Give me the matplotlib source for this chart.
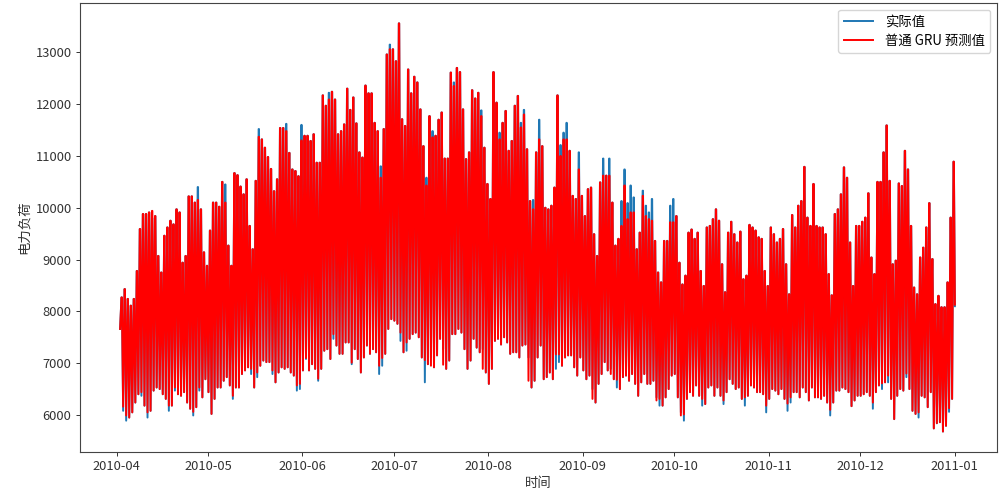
import numpy as np
import pandas as pd
import matplotlib
matplotlib.use("Agg")
import matplotlib.pyplot as plt
import matplotlib.dates as mdates

plt.rcParams['font.family'] = ['Noto Sans CJK SC', 'DejaVu Sans']
plt.rcParams['axes.unicode_minus'] = False

# one evening peak per day (starts 2010-04-02)
pred_peak = [
    8270,8430,8240,8110,8240,8780,9590,9880,9880,9910,9940,9840,9070,8750,9460,9620,9750,9680,9970,9910,
    8940,9070,10220,10220,10100,10150,9970,9140,8880,9560,10100,10100,10020,10500,10100,9270,8880,10670,10630,10410,
    10260,10550,9650,9200,10520,11370,11320,11160,10980,10750,10320,10550,11540,11540,11480,11060,10740,10710,10610,11300,
    11390,11390,11290,11420,10870,10870,12170,11970,12090,12240,12090,11420,11480,11610,12300,11890,12130,11630,11070,10970,
    12360,12210,12210,11640,11480,10580,11520,12960,
    13060,13060,12830,13560,11710,11580,12670,12210,12530,12420,11900,11190,10430,11770,11360,11390,11700,11840,10950,10950,
    12610,12350,12700,12620,11900,10940,11070,12270,12110,12220,11770,11160,10460,10170,12620,12030,11320,11640,11870,11100,
    11290,11970,12160,11550,11800,11130,10130,9970,11070,11320,11190,10000,9970,10040,10390,12170,11000,11320,11320,11100,
    10230,10170,10740,10230,9840,10360,10390,9490,9070,10490,10620,10620,10620,10100,9270,9400,9650,10430,9780,9910,
    9910,9200,9520,10230,9840,9780,9750,9360,8750,8560,9360,9360,9720,9720,9840,8940,8520,8690,9520,
    9580,9400,9520,8780,8490,9620,9650,9780,9970,9750,8910,8370,9520,9730,9490,9330,9540,8620,8690,9670,
    9620,9560,9430,9400,8780,8490,9620,9490,9330,9400,9590,8910,8330,9860,9620,10040,10130,10790,9810,9650,
    10460,9650,9620,9620,9490,8720,8310,9880,9970,10260,10780,10580,9330,8490,9650,9650,9730,9810,10280,9040,
    8720,10500,10500,11070,11590,10520,8910,8980,10470,10420,11100,10740,9650,8460,8330,9040,9230,9620,10090,9010,
    8140,8300,8080,8080,8560,9810,10890,
]

# one night trough per day, lower edge of the curves
actual_low = [
    7660,6080,5890,5950,6050,6240,6400,6370,6180,5950,6080,6470,6530,6500,6400,6310,6080,6180,6470,6400,
    6370,6440,6240,6120,5990,6150,6470,6340,6690,6440,6020,6310,6530,6530,6660,6730,6570,6310,6530,6530,
    6790,6860,6920,6790,6530,6730,6950,7050,7020,7020,6790,6630,6820,6920,6890,6920,6820,6760,6470,6500,
    6860,7080,6860,6980,6890,6660,6890,7240,7270,7080,7470,7340,7180,7180,7400,7400,6980,7270,7080,6820,
    7110,7340,7180,7270,7210,6790,6950,7180,7660,
    7850,7820,7760,7430,7210,7240,7470,7560,7590,7500,7110,6630,6980,7110,6920,7150,7470,7270,6890,7050,
    7560,7560,7660,7590,7270,6890,7050,7470,7300,7210,7270,6820,6600,6890,7430,7470,7360,7500,7400,7180,
    7210,7210,7110,7340,7360,7110,6530,6660,7110,7340,6690,6730,6820,6690,6890,7020,6950,7110,7150,7150,
    6920,6760,7110,6860,6690,6760,6500,6240,6600,6790,7020,6860,6890,6690,6530,6500,6730,6760,6660,6790,
    6600,6370,6630,6790,6600,6600,6660,6340,6180,6180,6340,6500,6760,6790,6340,6050,5890,6310,6440,
    6370,6570,6370,6180,6210,6530,6570,6370,6530,6370,6210,6440,6690,6600,6500,6530,6310,6180,6370,6570,
    6530,6440,6440,6400,6050,6310,6500,6470,6400,6500,6310,6080,6240,6440,6440,6340,6530,6440,6280,6530,
    6340,6340,6310,6370,6240,5990,6240,6470,6470,6530,6500,6440,6170,6280,6370,6370,6400,6440,6370,6120,
    6440,6570,6500,6630,6630,6310,5920,6370,6500,6470,6730,6500,6080,6020,5950,6370,6340,6150,6440,5740,
    5840,5860,5680,5790,6060,6310,
]
last_value = 8100

# days where the blue curve shows above the red one
blue_high_days = [10,25,34,45,54,59,68,85,88,100,102,109,118,124,131,132,135,137,144,145,146,150,158,160,164,165,166,167,168,171,172,173,174,180,181]
blue_high_vals = [9800,10400,10450,11520,11620,11600,12220,10800,13150,10580,11480,12420,11880,11450,11640,11890,10150,11700,11210,11450,11640,11070,10950,10950,10130,10740,10090,10430,10200,10330,10040,9910,10170,10040,10170]

# days where the blue curve shows below the red one, with the red low
blue_low_days = [1,2,7,9,16,18,24,26,37,43,45,50,58,59,61,65,70,76,85,86,92,94,100,102,106,119,134,143,144,155,161,163,176,177,184,185,191,198,205,212,219,220,233,247,250,252,258,262,272]
red_low_vals = [6160,5990,6440,6050,6180,6530,6060,6530,6370,6890,6820,6860,6570,6600,7100,6700,7560,7010,6950,7100,7590,7400,7060,6950,6970,6890,6660,7170,7170,6310,6790,6680,6280,6310,5990,6010,6310,6280,6340,6180,6220,6340,6100,6240,6610,6760,6800,6050,6130]

n = min(len(pred_peak), len(actual_low))
days = pd.date_range('2010-04-02', periods=n, freq='D')

actual_high = list(pred_peak[:n])
for d, v in zip(blue_high_days, blue_high_vals):
    actual_high[d] = v
pred_low = list(actual_low[:n])
for d, v in zip(blue_low_days, red_low_vals):
    pred_low[d] = v

# each day: night low, then a short stretch at the peak in the evening
times = []
actual = []
pred = []
for i in range(n):
    times += [days[i] + pd.Timedelta(hours=4), days[i] + pd.Timedelta(hours=15), days[i] + pd.Timedelta(hours=18)]
    actual += [actual_low[i], actual_high[i], actual_high[i]]
    pred += [pred_low[i], pred_peak[i], pred_peak[i]]
times.append(pd.Timestamp('2011-01-01 02:00'))
actual.append(last_value)
pred.append(last_value + 30)

fig = plt.figure(figsize=(10.07, 4.95), dpi=100)
ax = fig.add_axes([0.0794, 0.087, 0.9106, 0.907])
ax.plot(times, actual, color='#1f77b4', lw=1.4, label='实际值')
ax.plot(times, pred, color='red', lw=1.4, label='普通 GRU 预测值')
ax.set_xlim(pd.Timestamp('2010-03-20 00:00'), pd.Timestamp('2011-01-14 21:00'))
ax.xaxis.set_major_locator(mdates.MonthLocator())
ax.xaxis.set_major_formatter(mdates.DateFormatter('%Y-%m'))
ax.tick_params(labelsize=9.3, length=3, width=0.7, colors='#333333', pad=3)
for s in ax.spines.values():
    s.set_linewidth(0.8)
    s.set_color('#444444')
ax.set_xlabel('时间', fontsize=9.6, labelpad=2, color='#333333')
ax.set_ylabel('电力负荷', fontsize=9.6, labelpad=3, color='#333333')
ax.legend(loc='upper right', fontsize=9.6, handlelength=2.2, handletextpad=0.9, borderpad=0.4, labelspacing=0.35)

fig.savefig('out.png', dpi=100)
